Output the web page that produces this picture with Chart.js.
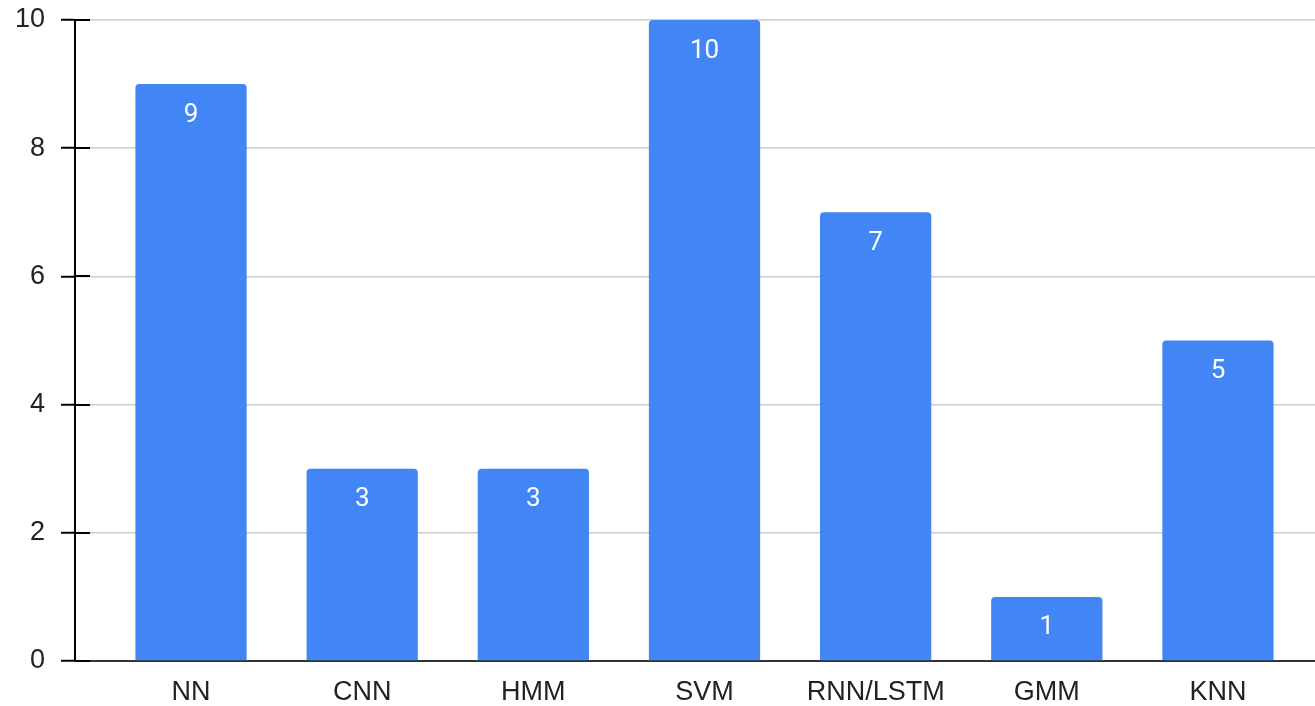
<!DOCTYPE html>
<html>
<head>
<meta charset="utf-8">
<style>
  html, body { margin: 0; padding: 0; background: #fff; }
  #wrap { width: 1315px; height: 706px; }
</style>
<script src="https://cdn.jsdelivr.net/npm/chart.js@4/dist/chart.umd.min.js"></script>
</head>
<body>
<div id="wrap"><canvas id="c" width="1315" height="706"></canvas></div>
<script>
// Number of studies using each classifier family
const categories = ['NN', 'CNN', 'HMM', 'SVM', 'RNN/LSTM', 'GMM', 'KNN'];
const counts = [9, 3, 3, 10, 7, 1, 5];
const yTicks = [0, 2, 4, 6, 8, 10];

const BAR_BLUE = '#4285F4';

// Value labels written inside the top of each bar
const valueLabels = {
  id: 'valueLabels',
  afterDatasetsDraw(chart) {
    const ctx = chart.ctx;
    const meta = chart.getDatasetMeta(0);
    ctx.save();
    ctx.fillStyle = '#ffffff';
    ctx.font = '26px Roboto';
    ctx.textAlign = 'center';
    ctx.textBaseline = 'middle';
    meta.data.forEach((bar, i) => {
      ctx.fillText(String(counts[i]), bar.x, bar.y + 31);
    });
    ctx.restore();
  }
};

// Short black tick stubs that continue the y-axis ticks into the plot
const tickStubs = {
  id: 'tickStubs',
  afterDraw(chart) {
    const ctx = chart.ctx;
    const y = chart.scales.y;
    const left = chart.chartArea.left;
    ctx.save();
    ctx.strokeStyle = '#000';
    ctx.lineWidth = 2;
    yTicks.forEach(v => {
      const py = Math.round(y.getPixelForValue(v));
      ctx.beginPath();
      ctx.moveTo(left, py);
      ctx.lineTo(left + 15, py);
      ctx.stroke();
    });
    ctx.restore();
  }
};

new Chart(document.getElementById('c'), {
  type: 'bar',
  data: {
    datasets: [{
      data: counts.map((v, i) => ({ x: i, y: v })),
      backgroundColor: BAR_BLUE,
      borderRadius: { topLeft: 4, topRight: 4, bottomLeft: 0, bottomRight: 0 },
      borderSkipped: false,
      categoryPercentage: 1,
      barPercentage: 0.65
    }]
  },
  options: {
    responsive: false,
    animation: false,
    layout: { padding: 0 },
    plugins: {
      legend: { display: false },
      tooltip: { enabled: false }
    },
    scales: {
      x: {
        type: 'linear',
        offset: false,
        min: -0.678,
        max: 6.567,
        afterBuildTicks(scale) {
          scale.ticks = categories.map((_, i) => ({ value: i }));
        },
        afterFit(scale) {
          scale.height = 45;
          scale.paddingLeft = 0;
          scale.paddingRight = 0;
        },
        grid: { offset: false, drawOnChartArea: false, drawTicks: false },
        border: { color: '#333', width: 2 },
        ticks: {
          padding: 15,
          color: '#222',
          font: { family: 'Liberation Sans', size: 27 },
          maxRotation: 0,
          autoSkip: false,
          callback: v => categories[v]
        }
      },
      y: {
        min: 0,
        max: 10,
        afterBuildTicks(scale) {
          scale.ticks = yTicks.map(v => ({ value: v }));
        },
        afterFit(scale) {
          scale.width = 75;
          scale.paddingTop = 20;
          scale.paddingBottom = 0;
        },
        grid: {
          color: '#cccccc',
          lineWidth: 1.5,
          tickLength: 14,
          tickColor: '#000',
          tickWidth: 2
        },
        border: { color: '#000', width: 2 },
        ticks: {
          padding: 16,
          color: '#222',
          font: { family: 'Liberation Sans', size: 27 }
        }
      }
    }
  },
  plugins: [valueLabels, tickStubs]
});
</script>
</body>
</html>
